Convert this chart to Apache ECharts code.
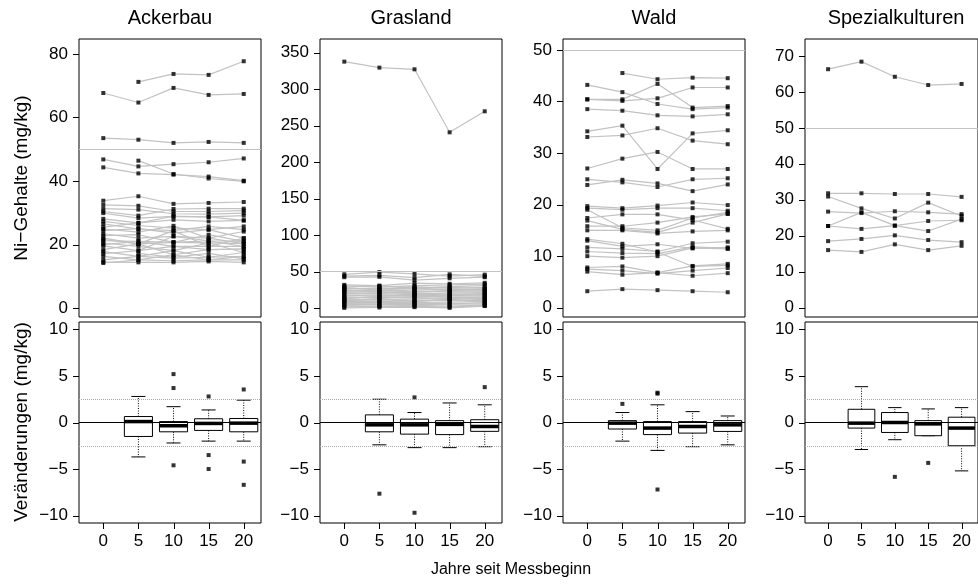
<!DOCTYPE html>
<html>
<head>
<meta charset="utf-8">
<script src="https://cdn.jsdelivr.net/npm/echarts@6/dist/echarts.min.js"></script>
<style>
html, body { margin: 0; padding: 0; background: #fff; }
#chart { width: 978px; height: 585px; }
</style>
</head>
<body>
<div id="chart"></div>
<script>
var years = [0, 5, 10, 15, 20];
var panelNames = ['Ackerbau', 'Grasland', 'Wald', 'Spezialkulturen'];

// Ni contents per site, values at years 0,5,10,15,20 (null = not measured)
var ackerbauLines = [
    [null, 71.2, 73.7, 73.4, 77.7],
    [67.7, 64.7, 69.3, 67.1, 67.4],
    [53.5, 53.0, 52.0, 52.3, 52.0],
    [46.8, 44.6, 45.3, 45.9, 47.1],
    [44.3, 42.4, 42.0, 41.4, 40.1],
    [null, 46.4, 42.2, 40.8, 39.9],
    [33.8, 35.2, 32.8, 33.1, 33.4],
    [32.5, 32.2, 30.4, 30.4, 30.7],
    [31.3, 31.0, 29.7, 29.6, 29.9],
    [30.4, 29.1, 31.2, 31.3, 31.3],
    [29.9, 28.3, 28.9, 28.7, 29.1],
    [28.1, 26.8, 27.8, 27.3, 27.6],
    [27.3, 26.0, 25.2, 24.7, 25.7],
    [26.5, 24.9, 24.4, 25.7, 24.7],
    [25.5, 26.8, 28.9, 28.7, 27.6],
    [24.9, 23.9, 25.9, 22.0, 24.1],
    [24.4, 25.0, 23.6, 24.7, 22.0],
    [23.4, 22.0, 22.6, 21.2, 21.0],
    [22.8, 23.1, 20.7, 20.5, 20.3],
    [22.0, 20.2, 24.4, 19.4, 19.4],
    [21.6, 20.2, 20.7, 21.2, 19.4],
    [21.2, 21.0, 19.4, 18.4, 18.6],
    [20.5, 19.4, 18.1, 20.5, 17.5],
    [20.0, 21.0, 20.7, 23.1, 21.0],
    [19.6, 18.1, 22.6, 22.0, 20.3],
    [18.4, 20.2, 16.8, 18.4, 18.6],
    [17.8, 16.3, 15.7, 16.0, 16.3],
    [17.1, 18.1, 19.4, 19.4, 22.0],
    [null, 17.2, 16.0, 17.2, 15.5],
    [16.3, 15.2, 14.9, 15.2, 15.2],
    [15.2, 16.3, 18.1, 16.0, 17.5],
    [14.5, 14.4, 14.4, 14.7, 14.4],
    [14.2, 15.2, 16.8, 15.2, 16.3]
];
var graslandLines = [
    [337.7, 329.5, 327.2, 240.9, 269.7],
    [46.5, 49.5, 47.0, 44.0, 46.0],
    [44.0, 45.0, 42.0, 46.5, 43.5],
    [42.5, 43.0, 38.5, 41.0, 42.5],
    [32.0, 31.0, 34.5, 33.5, 34.8],
    [30.5, 29.0, 31.0, 32.0, 33.0],
    [29.0, 30.5, 28.0, 29.5, 31.0],
    [28.0, 25.0, 27.0, 24.0, 26.0],
    [27.5, 26.0, 29.5, 27.0, 28.5],
    [26.0, 27.5, 26.5, 28.5, 27.0],
    [25.0, 22.0, 21.0, 19.5, 19.0],
    [24.5, 23.0, 25.0, 25.5, 25.5],
    [23.0, 24.5, 22.5, 23.5, 24.0],
    [21.5, 20.0, 23.5, 22.0, 22.5],
    [20.0, 21.5, 20.0, 20.5, 21.5],
    [18.5, 17.5, 19.0, 18.5, 20.0],
    [17.0, 18.5, 17.0, 17.5, 18.0],
    [15.5, 14.5, 16.0, 16.5, 16.5],
    [14.0, 15.5, 14.5, 13.5, 15.0],
    [13.0, 16.5, 18.0, 15.0, 14.0],
    [12.5, 12.0, 13.0, 14.0, 13.5],
    [11.0, 11.0, 11.5, 10.5, 12.0],
    [10.0, 13.5, 9.0, 12.5, 8.0],
    [9.5, 9.0, 10.0, 11.5, 10.5],
    [8.0, 8.5, 8.0, 8.5, 9.0],
    [6.5, 6.0, 7.0, 6.0, 7.5],
    [5.0, 5.5, 5.0, 5.5, 6.0],
    [3.5, 3.0, 4.0, 3.0, 4.5],
    [2.0, 2.5, 2.5, 1.5, 3.5],
    [0.5, 1.0, 1.5, 0.5, 3.0]
];
var waldLines = [
    [null, 45.5, 44.3, 44.6, 44.5],
    [43.2, 41.8, 39.5, 38.5, 38.8],
    [40.4, 40.4, 43.4, 38.8, 39.1],
    [40.4, 40.1, 40.6, 42.7, 42.7],
    [38.5, 38.2, 37.3, 37.1, 37.5],
    [34.2, 35.3, 26.9, 33.8, 34.4],
    [33.1, 33.4, 34.8, 32.4, 31.7],
    [27.0, 28.9, 30.2, 26.9, 26.9],
    [24.9, 24.3, 23.4, 24.9, 25.1],
    [23.8, 24.8, 24.1, 22.6, 23.9],
    [19.7, 19.3, 19.8, 20.4, 19.9],
    [19.3, 19.0, 19.3, 19.3, 18.8],
    [19.0, 15.5, 15.0, 17.4, 18.5],
    [17.4, 18.1, 18.1, 17.0, 15.3],
    [16.9, 15.2, 14.6, 16.5, 18.2],
    [15.8, 15.8, 16.5, 17.6, 18.2],
    [15.0, 15.0, 14.4, 14.8, 15.0],
    [13.3, 12.4, 10.8, 8.0, 8.2],
    [13.0, 11.9, 12.3, 11.5, 11.7],
    [11.7, 11.4, 10.9, 12.5, 12.8],
    [10.9, 10.6, 10.5, 11.8, 11.5],
    [10.0, 9.7, 10.0, 11.6, 11.4],
    [7.8, 8.0, 6.8, 8.1, 8.5],
    [7.5, 7.2, 6.6, 7.2, 7.7],
    [7.0, 6.4, 6.8, 6.2, 6.7],
    [3.2, 3.6, 3.4, 3.2, 3.0]
];
var spezialLines = [
    [66.3, 68.4, 64.2, 61.9, 62.2],
    [31.8, 31.8, 31.6, 31.6, 30.8],
    [30.9, 27.6, 24.8, 29.2, 25.5],
    [26.7, 26.3, 26.8, 26.5, 26.0],
    [22.7, 26.5, 22.8, 21.3, 24.6],
    [22.7, 21.9, 22.8, 24.1, 24.3],
    [18.5, 19.1, 20.1, 18.8, 18.2],
    [16.0, 15.5, 17.6, 16.0, 17.2]
];

// changes: [year, lower whisker, q1, median, q3, upper whisker]
var ackerbauBoxes = [
    [5, -3.7, -1.5, 0.1, 0.64, 2.8],
    [10, -2.2, -1.0, -0.35, 0.1, 1.7],
    [15, -2.0, -0.85, -0.1, 0.4, 1.35],
    [20, -2.0, -1.0, -0.07, 0.43, 2.4]
];
var ackerbauOutliers = [[10, 5.2], [10, 3.7], [10, -4.6], [15, 2.8], [15, -3.5], [15, -5.0], [20, 3.55], [20, -4.2], [20, -6.7]];
var graslandBoxes = [
    [5, -2.4, -1.0, -0.25, 0.82, 2.5],
    [10, -2.7, -1.25, -0.25, 0.36, 1.07],
    [15, -2.7, -1.3, -0.2, 0.2, 2.1],
    [20, -2.6, -0.95, -0.43, 0.3, 1.9]
];
var graslandOutliers = [[5, -7.65], [10, 2.7], [10, -9.7], [20, 3.8]];
var waldBoxes = [
    [5, -2.0, -0.7, -0.07, 0.2, 1.07],
    [10, -3.0, -1.3, -0.6, 0.1, 1.9],
    [15, -2.6, -1.14, -0.43, 0.1, 1.17],
    [20, -2.4, -0.96, -0.25, 0.2, 0.7]
];
var waldOutliers = [[5, 2.0], [10, 3.2], [10, 3.1], [10, -7.2]];
var spezialBoxes = [
    [5, -2.9, -0.6, -0.07, 1.42, 3.85],
    [10, -1.85, -1.07, 0.0, 1.07, 1.6],
    [15, -1.42, -1.42, -0.15, 0.2, 1.46],
    [20, -5.2, -2.5, -0.6, 0.57, 1.6]
];
var spezialOutliers = [[10, -5.84], [15, -4.34]];

var topTicks = [
    [0, 20, 40, 60, 80],
    [0, 50, 100, 150, 200, 250, 300, 350],
    [0, 10, 20, 30, 40, 50],
    [0, 10, 20, 30, 40, 50, 60, 70]
];
var topRanges = [[-2.8, 84.7], [-12, 368.7], [-1.8, 52.1], [-2.6, 74.7]];
var changeTicks = [-10, -5, 0, 5, 10];
var changeRange = [-10.8, 10.8];
var yearRange = [-3.46, 22.46];
var limitLine = 50;
var changeLimits = [-2.5, 2.5];

var allLines = [ackerbauLines, graslandLines, waldLines, spezialLines];
var allBoxes = [ackerbauBoxes, graslandBoxes, waldBoxes, spezialBoxes];
var allOutliers = [ackerbauOutliers, graslandOutliers, waldOutliers, spezialOutliers];

var lefts = [79, 320, 563, 805];
var panelW = 182;
var topY = 39, topH = 278, botY = 322, botH = 201;
var tickLen = 6;
var font = '"Liberation Sans", Arial, sans-serif';

function minus(v) {
    return String(v).replace('-', '\u2212');
}

function renderBox(params, api) {
    var x = api.value(0);
    var lo = api.coord([x, api.value(1)]);
    var q1 = api.coord([x, api.value(2)]);
    var md = api.coord([x, api.value(3)]);
    var q3 = api.coord([x, api.value(4)]);
    var hi = api.coord([x, api.value(5)]);
    var half = api.size([2, 0])[0];
    var cap = api.size([1, 0])[0];
    var cx = lo[0];
    var dot = { stroke: '#000', lineWidth: 1, lineDash: [1, 1.5] };
    var solid = { stroke: '#000', lineWidth: 1 };
    return {
        type: 'group',
        children: [
            { type: 'line', shape: { x1: cx, y1: q3[1], x2: cx, y2: hi[1] }, style: dot },
            { type: 'line', shape: { x1: cx, y1: q1[1], x2: cx, y2: lo[1] }, style: dot },
            { type: 'line', shape: { x1: cx - cap, y1: hi[1], x2: cx + cap, y2: hi[1] }, style: solid },
            { type: 'line', shape: { x1: cx - cap, y1: lo[1], x2: cx + cap, y2: lo[1] }, style: solid },
            { type: 'rect', shape: { x: cx - half, y: q3[1], width: 2 * half, height: q1[1] - q3[1] },
              style: { fill: '#fff', stroke: '#000', lineWidth: 1 } },
            { type: 'line', shape: { x1: cx - half, y1: md[1], x2: cx + half, y2: md[1] },
              style: { stroke: '#000', lineWidth: 3.5 } }
        ]
    };
}

// tick marks live in thin strip grids next to each panel:
// y ticks: [0, value] spans strip x 0..1, x ticks: [value, 0] spans strip y 0..1
function renderYTick(params, api) {
    var a = api.coord([0, api.value(1)]);
    var b = api.coord([1, api.value(1)]);
    var y = Math.round(a[1]) + 0.5;
    return { type: 'line', shape: { x1: a[0], y1: y, x2: b[0], y2: y }, style: { stroke: '#000', lineWidth: 1 } };
}
function renderXTick(params, api) {
    var a = api.coord([api.value(0), 1]);
    var b = api.coord([api.value(0), 0]);
    var x = Math.round(a[0]) + 0.5;
    return { type: 'line', shape: { x1: x, y1: a[1], x2: x, y2: b[1] }, style: { stroke: '#000', lineWidth: 1 } };
}

var grids = [], xAxes = [], yAxes = [], series = [], graphics = [];
var tickLabel = { color: '#000', fontSize: 17, fontFamily: font };
var noLine = { show: false, onZero: false };
var hidden = { axisLine: noLine, axisTick: { show: false }, axisLabel: { show: false }, splitLine: { show: false } };

function addGrid(g, xa, ya) {
    grids.push(g);
    xa.gridIndex = grids.length - 1;
    ya.gridIndex = grids.length - 1;
    xAxes.push(xa);
    yAxes.push(ya);
    return grids.length - 1;
}

for (var p = 0; p < 4; p++) {
    var ti = addGrid(
        { left: lefts[p], top: topY, width: panelW, height: topH, show: true, borderColor: '#000', borderWidth: 1 },
        Object.assign({ type: 'value', min: yearRange[0], max: yearRange[1] }, hidden),
        Object.assign({ type: 'value', min: topRanges[p][0], max: topRanges[p][1], position: 'left' }, hidden, {
            axisLabel: Object.assign({ show: true, customValues: topTicks[p], margin: 11 }, tickLabel)
        })
    );
    var bi = addGrid(
        { left: lefts[p], top: botY, width: panelW, height: botH, show: true, borderColor: '#000', borderWidth: 1 },
        Object.assign({ type: 'value', min: yearRange[0], max: yearRange[1], position: 'bottom' }, hidden, {
            axisLabel: Object.assign({ show: true, customValues: years, margin: 10 }, tickLabel)
        }),
        Object.assign({ type: 'value', min: changeRange[0], max: changeRange[1], position: 'left' }, hidden, {
            axisLabel: Object.assign({ show: true, customValues: changeTicks, margin: 11, formatter: minus }, tickLabel)
        })
    );

    // strip grids holding the outward tick marks
    var tStrip = addGrid(
        { left: lefts[p] - tickLen, top: topY, width: tickLen, height: topH, show: false },
        Object.assign({ type: 'value', min: 0, max: 1 }, hidden),
        Object.assign({ type: 'value', min: topRanges[p][0], max: topRanges[p][1] }, hidden)
    );
    var bStrip = addGrid(
        { left: lefts[p] - tickLen, top: botY, width: tickLen, height: botH, show: false },
        Object.assign({ type: 'value', min: 0, max: 1 }, hidden),
        Object.assign({ type: 'value', min: changeRange[0], max: changeRange[1] }, hidden)
    );
    var xStrip = addGrid(
        { left: lefts[p], top: botY + botH, width: panelW, height: tickLen, show: false },
        Object.assign({ type: 'value', min: yearRange[0], max: yearRange[1] }, hidden),
        Object.assign({ type: 'value', min: 0, max: 1 }, hidden)
    );
    series.push({
        type: 'custom', xAxisIndex: tStrip, yAxisIndex: tStrip, silent: true, z: 5, renderItem: renderYTick,
        data: topTicks[p].map(function (v) { return [0, v]; }), encode: { x: 0, y: 1 }
    });
    series.push({
        type: 'custom', xAxisIndex: bStrip, yAxisIndex: bStrip, silent: true, z: 5, renderItem: renderYTick,
        data: changeTicks.map(function (v) { return [0, v]; }), encode: { x: 0, y: 1 }
    });
    series.push({
        type: 'custom', xAxisIndex: xStrip, yAxisIndex: xStrip, silent: true, z: 5, renderItem: renderXTick,
        data: years.map(function (v) { return [v, 0]; }), encode: { x: 0, y: 1 }
    });

    // gray lines per site
    var pts = [];
    allLines[p].forEach(function (line) {
        var d = [];
        line.forEach(function (v, i) {
            if (v != null) {
                d.push([years[i], v]);
                pts.push([years[i], v]);
            }
        });
        series.push({
            type: 'line', xAxisIndex: ti, yAxisIndex: ti, data: d, showSymbol: false,
            lineStyle: { color: '#c2c2c2', width: 1.2 }, silent: true, z: 2
        });
    });
    series.push({
        type: 'scatter', xAxisIndex: ti, yAxisIndex: ti, data: pts, symbol: 'rect', symbolSize: 4,
        itemStyle: { color: '#000' }, silent: true, z: 4,
        markLine: {
            silent: true, symbol: 'none', label: { show: false },
            lineStyle: { color: '#c2c2c2', type: 'solid', width: 1.2 },
            data: [{ yAxis: limitLine }]
        }
    });

    series.push({
        type: 'custom', xAxisIndex: bi, yAxisIndex: bi, data: allBoxes[p], renderItem: renderBox,
        encode: { x: 0, y: [1, 2, 3, 4, 5] }, silent: true, z: 2
    });
    series.push({
        type: 'scatter', xAxisIndex: bi, yAxisIndex: bi, data: allOutliers[p], symbol: 'rect', symbolSize: 4,
        itemStyle: { color: '#000' }, silent: true, z: 4,
        markLine: {
            silent: true, symbol: 'none', label: { show: false },
            data: [
                { yAxis: 0, lineStyle: { color: '#000', type: 'solid', width: 1 } },
                { yAxis: changeLimits[0], lineStyle: { color: '#aaa', type: [1, 1], width: 1 } },
                { yAxis: changeLimits[1], lineStyle: { color: '#aaa', type: [1, 1], width: 1 } }
            ]
        }
    });

    graphics.push({
        type: 'text', x: lefts[p] + panelW / 2, y: 18,
        style: { text: panelNames[p], fill: '#000', font: '20px ' + font, textAlign: 'center', textVerticalAlign: 'middle' }
    });
}

graphics.push({
    type: 'text', x: 22, y: 178, rotation: Math.PI / 2,
    style: { text: 'Ni\u2212Gehalte (mg/kg)', fill: '#000', font: '19px ' + font, textAlign: 'center', textVerticalAlign: 'middle' }
});
graphics.push({
    type: 'text', x: 22, y: 422, rotation: Math.PI / 2,
    style: { text: 'Veränderungen (mg/kg)', fill: '#000', font: '19px ' + font, textAlign: 'center', textVerticalAlign: 'middle' }
});
graphics.push({
    type: 'text', x: 511, y: 570,
    style: { text: 'Jahre seit Messbeginn', fill: '#000', font: '16px ' + font, textAlign: 'center', textVerticalAlign: 'middle' }
});

var chart = echarts.init(document.getElementById('chart'));
chart.setOption({
    animation: false,
    backgroundColor: '#fff',
    grid: grids,
    xAxis: xAxes,
    yAxis: yAxes,
    series: series,
    graphic: graphics
});
</script>
</body>
</html>
